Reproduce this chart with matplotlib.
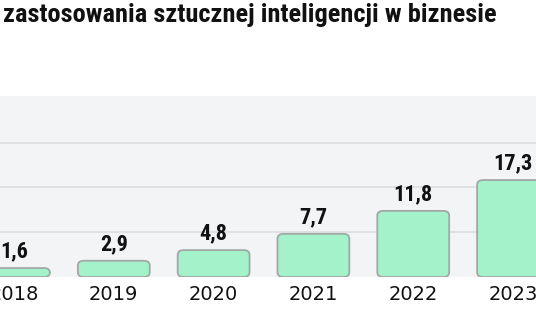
import matplotlib.pyplot as plt
from matplotlib.patches import FancyBboxPatch

years = ['2018', '2019', '2020', '2021', '2022', '2023']
values = [1.6, 2.9, 4.8, 7.7, 11.8, 17.3]
labels = ['1,6', '2,9', '4,8', '7,7', '11,8', '17,3']

narrow = ['Roboto Condensed', 'Roboto', 'DejaVu Sans']

fig = plt.figure(figsize=(5.36, 3.32), dpi=100)
ax = fig.add_axes([0, 55 / 332, 1, 181 / 332])
ax.set_facecolor('#f2f4f5')

x = range(len(years))
bars = ax.bar(x, values, width=0.72, color='none', edgecolor='none')

# rounded bars on top of the plain ones
for b in bars:
    patch = FancyBboxPatch((b.get_x(), b.get_y()), b.get_width(), b.get_height(),
                           boxstyle='round,pad=0,rounding_size=0.06',
                           mutation_aspect=14,
                           facecolor='#a4f2c9', edgecolor='#a2a8a5', linewidth=1.3,
                           zorder=3)
    ax.add_patch(patch)

for xi, v, lab in zip(x, values, labels):
    ax.annotate(lab, (xi, v), xytext=(0, 4), textcoords='offset points',
                ha='center', va='bottom', fontsize=16, fontweight='heavy',
                family=narrow, color='#111111', zorder=4)

ax.set_xlim(-0.14, 5.23)
ax.set_ylim(0, 32.3)
ax.set_yticks([8, 16, 24])
ax.yaxis.grid(True, color='#dcdfe1', linewidth=1.2)
ax.set_axisbelow(True)
ax.set_xticks(list(x))
ax.set_xticklabels(years, fontsize=14, color='#111111')
ax.tick_params(axis='x', length=0, pad=6)
ax.tick_params(axis='y', left=False, labelleft=False)
for s in ax.spines.values():
    s.set_visible(False)

fig.text(0.005, 1 - 22 / 332, 'zastosowania sztucznej inteligencji w biznesie',
         fontsize=19, fontweight='heavy', family=narrow, color='#111111',
         va='baseline', ha='left')

fig.savefig('out.png', dpi=100)
